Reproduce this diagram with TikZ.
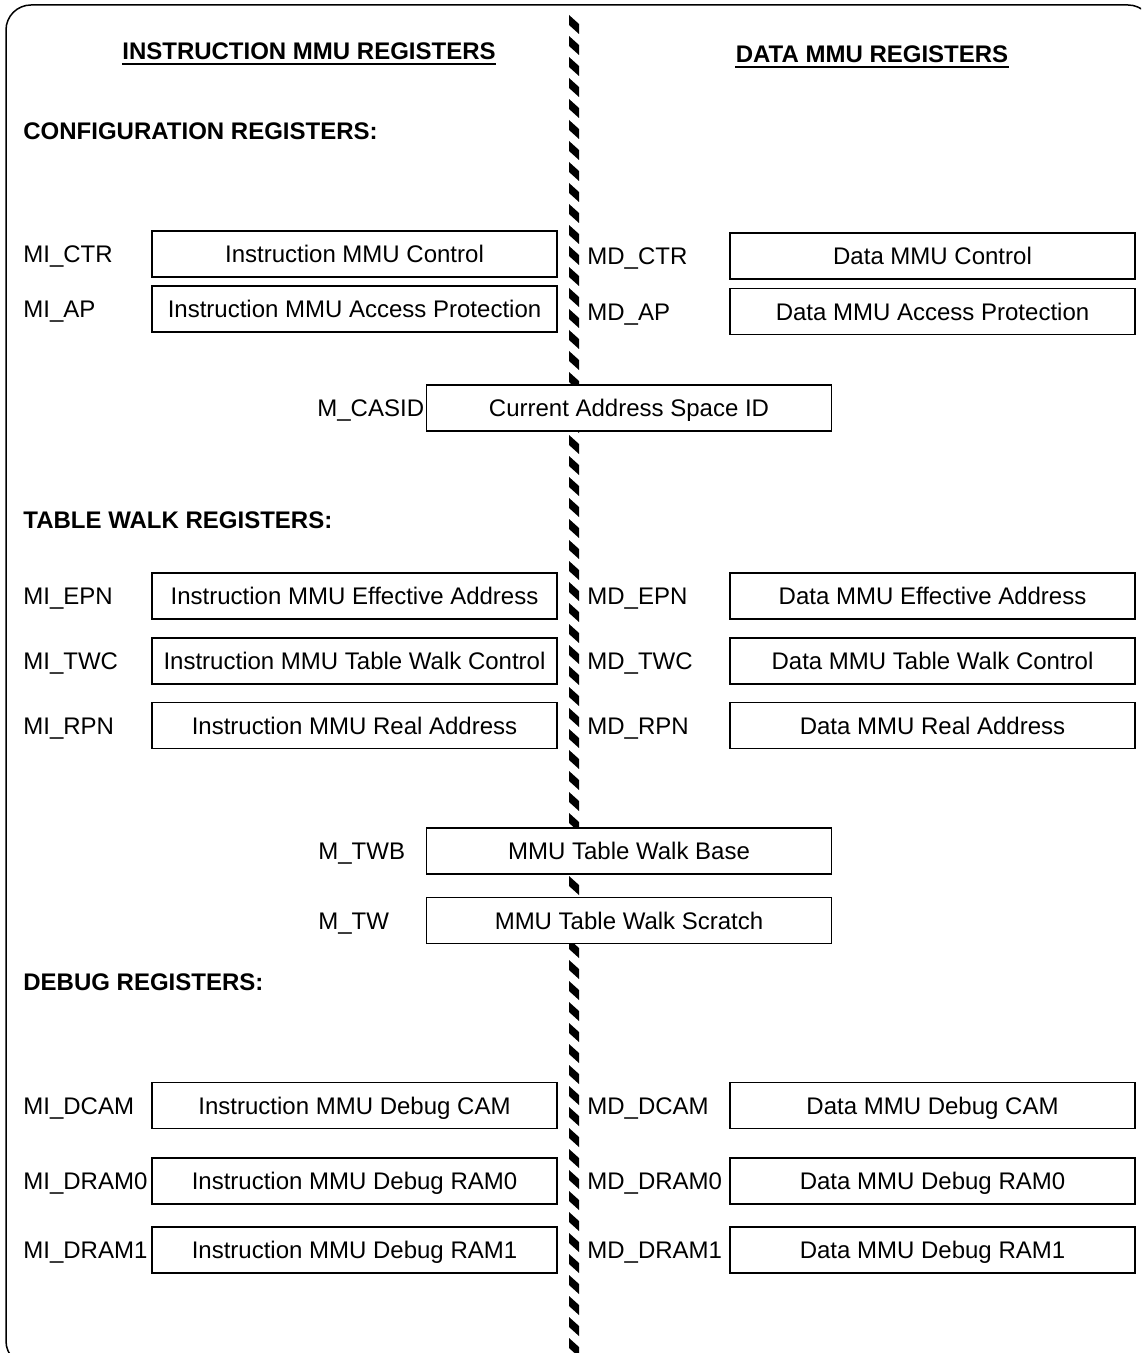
\documentclass[tikz,border=0pt]{standalone}
\usepackage{fontspec}
\setmainfont{Liberation Sans}
\usetikzlibrary{calc}

\tikzset{
  regbox/.style={draw, fill=white, line width=0.6pt, minimum width=202.5pt,
    minimum height=23pt, inner sep=0pt, text height=8.6pt, text depth=0pt,
    font=\fontsize{12}{14}\selectfont},
  reglabel/.style={anchor=west, inner sep=0pt, text height=8.6pt, text depth=0pt,
    font=\fontsize{12}{14}\selectfont},
  grouptitle/.style={anchor=base west, inner sep=0pt, font=\fontsize{12}{14}\selectfont\bfseries},
  sidetitle/.style={anchor=base, inner sep=0pt, font=\fontsize{12}{14}\selectfont\bfseries}
}

\begin{document}
\begin{tikzpicture}[x=0.5pt, y=-0.5pt]
    \useasboundingbox (0,0) rectangle (1141,1353);
    \clip (0,0) rectangle (1141,1353);

    %----------------------------------------
    % OUTER FRAME (runs off right and bottom)
    %----------------------------------------
    \draw[line width=0.75pt, rounded corners=12.5pt] (6,5) rectangle (1153,1366);

    %----------------------------------------
    % HATCHED DIVIDER between the two halves
    %----------------------------------------
    \foreach \k in {0,...,63}{
       \fill (569,{15+21*\k}) -- ++(0,10) -- ++(10,9) -- ++(0,-10) -- cycle;
    }

    %----------------------------------------
    % Titles
    %----------------------------------------
    \node[sidetitle] (ititle) at (309,60) {INSTRUCTION MMU REGISTERS};
    \node[sidetitle] (dtitle) at (872,63) {DATA MMU REGISTERS};
    \draw[line width=0.8pt] ($(ititle.base west)+(0,4)$) -- ($(ititle.base east)+(0,4)$);
    \draw[line width=0.8pt] ($(dtitle.base west)+(0,4)$) -- ($(dtitle.base east)+(0,4)$);

    \node[grouptitle] (config) at (23,140) {CONFIGURATION REGISTERS:};
    \node[grouptitle] (walk) at (23,528) {TABLE WALK REGISTERS:};
    \node[grouptitle] (debug) at (23,990) {DEBUG REGISTERS:};

    %----------------------------------------
    % Instruction side (left)
    %----------------------------------------
    \foreach \n/\y/\lab/\desc in {
      % FORMAT: name / y / register / description
        mictr/254/MI\_CTR/Instruction MMU Control,
        miap/309/MI\_AP/Instruction MMU Access Protection,
        miepn/596/MI\_EPN/Instruction MMU Effective Address,
        mitwc/661/MI\_TWC/Instruction MMU Table Walk Control,
        mirpn/725.5/MI\_RPN/Instruction MMU Real Address,
        midcam/1105.5/MI\_DCAM/Instruction MMU Debug CAM,
        midram0/1181/MI\_DRAM0/Instruction MMU Debug RAM0,
        midram1/1250/MI\_DRAM1/Instruction MMU Debug RAM1
    }{
       \node[regbox] (\n) at (354.5,\y) {\desc};
       \node[reglabel] (\n-lab) at (23,\y) {\lab};
    }

    %----------------------------------------
    % Data side (right)
    %----------------------------------------
    \foreach \n/\y/\lab/\desc in {
        mdctr/256/MD\_CTR/Data MMU Control,
        mdap/311.5/MD\_AP/Data MMU Access Protection,
        mdepn/596/MD\_EPN/Data MMU Effective Address,
        mdtwc/661/MD\_TWC/Data MMU Table Walk Control,
        mdrpn/725.5/MD\_RPN/Data MMU Real Address,
        mddcam/1105.5/MD\_DCAM/Data MMU Debug CAM,
        mddram0/1181/MD\_DRAM0/Data MMU Debug RAM0,
        mddram1/1250/MD\_DRAM1/Data MMU Debug RAM1
    }{
       \node[regbox] (\n) at (932.5,\y) {\desc};
       \node[reglabel] (\n-lab) at (587,\y) {\lab};
    }

    %----------------------------------------
    % Shared registers (over the divider)
    %----------------------------------------
    \foreach \n/\y/\lx/\lab/\desc in {
        mcasid/408/317/M\_CASID/Current Address Space ID,
        mtwb/851/318/M\_TWB/MMU Table Walk Base,
        mtw/920.5/318/M\_TW/MMU Table Walk Scratch
    }{
       \node[regbox] (\n) at (629,\y) {\desc};
       \node[reglabel] (\n-lab) at (\lx,\y) {\lab};
    }

\end{tikzpicture}
\end{document}
